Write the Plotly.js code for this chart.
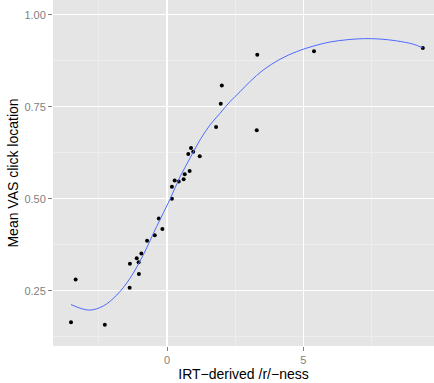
<!DOCTYPE html>
<html>
<head>
<meta charset="utf-8">
<script src="https://cdn.plot.ly/plotly-3.0.1.min.js"></script>
<style>html,body{margin:0;padding:0;background:#fff;}#chart{width:434px;height:383px;}</style>
</head>
<body>
<div id="chart"></div>
<script>
// Observed points
const pointX = [-3.52, -3.35, -2.28, -1.37, -1.36, -1.11, -1.04, -1.03, -0.94, -0.73, -0.45, -0.30, -0.17,
  0.18, 0.18, 0.28, 0.43, 0.61, 0.65, 0.83, 0.78, 0.88, 0.96, 1.20, 1.80, 1.97, 2.01, 3.31, 3.29, 5.39, 9.38];
const pointY = [0.165, 0.281, 0.158, 0.259, 0.324, 0.339, 0.328, 0.296, 0.352, 0.386, 0.401, 0.447, 0.418,
  0.500, 0.533, 0.550, 0.547, 0.553, 0.567, 0.576, 0.622, 0.638, 0.628, 0.616, 0.695, 0.758, 0.808, 0.891, 0.686, 0.901, 0.910];
// Smoothed (loess) curve
const curveX = [-3.52, -2.86, -2.34, -1.84, -1.36, -0.87, -0.38, 0.11, 0.48, 0.84, 1.21, 1.58, 1.94, 2.31,
  2.68, 3.05, 3.53, 4.14, 4.76, 5.37, 5.98, 6.59, 7.20, 7.81, 8.42, 9.03, 9.38];
const curveY = [0.213, 0.198, 0.209, 0.239, 0.284, 0.348, 0.425, 0.499, 0.560, 0.610, 0.660, 0.701, 0.732, 0.764,
  0.791, 0.819, 0.850, 0.879, 0.900, 0.915, 0.926, 0.932, 0.935, 0.934, 0.929, 0.920, 0.910];
const xTicks = [0, 5];
const xTickText = ['0', '5'];
const yTicks = [0.25, 0.50, 0.75, 1.00];
const yTickText = ['0.25', '0.50', '0.75', '1.00'];

const traces = [
  {x: pointX, y: pointY, type: 'scatter', mode: 'markers',
   marker: {color: '#000000', size: 4}, hoverinfo: 'skip'},
  {x: curveX, y: curveY, type: 'scatter', mode: 'lines', line: {shape: 'spline', smoothing: 1, color: '#4D6BFF', width: 1}, hoverinfo: 'skip'}
];
const layout = {
  width: 434, height: 383,
  margin: {l: 53, r: 0, t: 0, b: 37},
  paper_bgcolor: '#ffffff', plot_bgcolor: '#E5E5E5',
  showlegend: false,
  font: {family: 'Liberation Sans, Arial, sans-serif'},
  xaxis: {
    range: [-4.18, 9.79], tickmode: 'array', tickvals: xTicks, ticktext: xTickText,
    showgrid: true, gridcolor: '#ffffff', gridwidth: 1.1, zeroline: false, showline: false,
    ticks: 'outside', ticklen: 4, tickcolor: '#7F7F7F', tickwidth: 1,
    tickfont: {size: 11, color: '#7F7F7F'},
    minor: {tickvals: [-2.5, 2.5, 7.5], showgrid: true, gridcolor: '#F2F2F2', gridwidth: 0.6, ticks: ''},
    title: {text: 'IRT\u2212derived /r/\u2212ness', font: {size: 14, color: '#000000'}, standoff: 0}
  },
  yaxis: {
    range: [0.1005, 1.04], tickmode: 'array', tickvals: yTicks, ticktext: yTickText,
    showgrid: true, gridcolor: '#ffffff', gridwidth: 1.1, zeroline: false, showline: false,
    ticks: 'outside', ticklen: 4, tickcolor: '#7F7F7F', tickwidth: 1,
    tickfont: {size: 11, color: '#7F7F7F'},
    minor: {tickvals: [0.125, 0.375, 0.625, 0.875], showgrid: true, gridcolor: '#F2F2F2', gridwidth: 0.6, ticks: ''},
    title: {text: 'Mean VAS click location', font: {size: 14, color: '#000000'}, standoff: 2}
  }
};
Plotly.newPlot('chart', traces, layout, {displayModeBar: false, staticPlot: true});
</script>
</body>
</html>
